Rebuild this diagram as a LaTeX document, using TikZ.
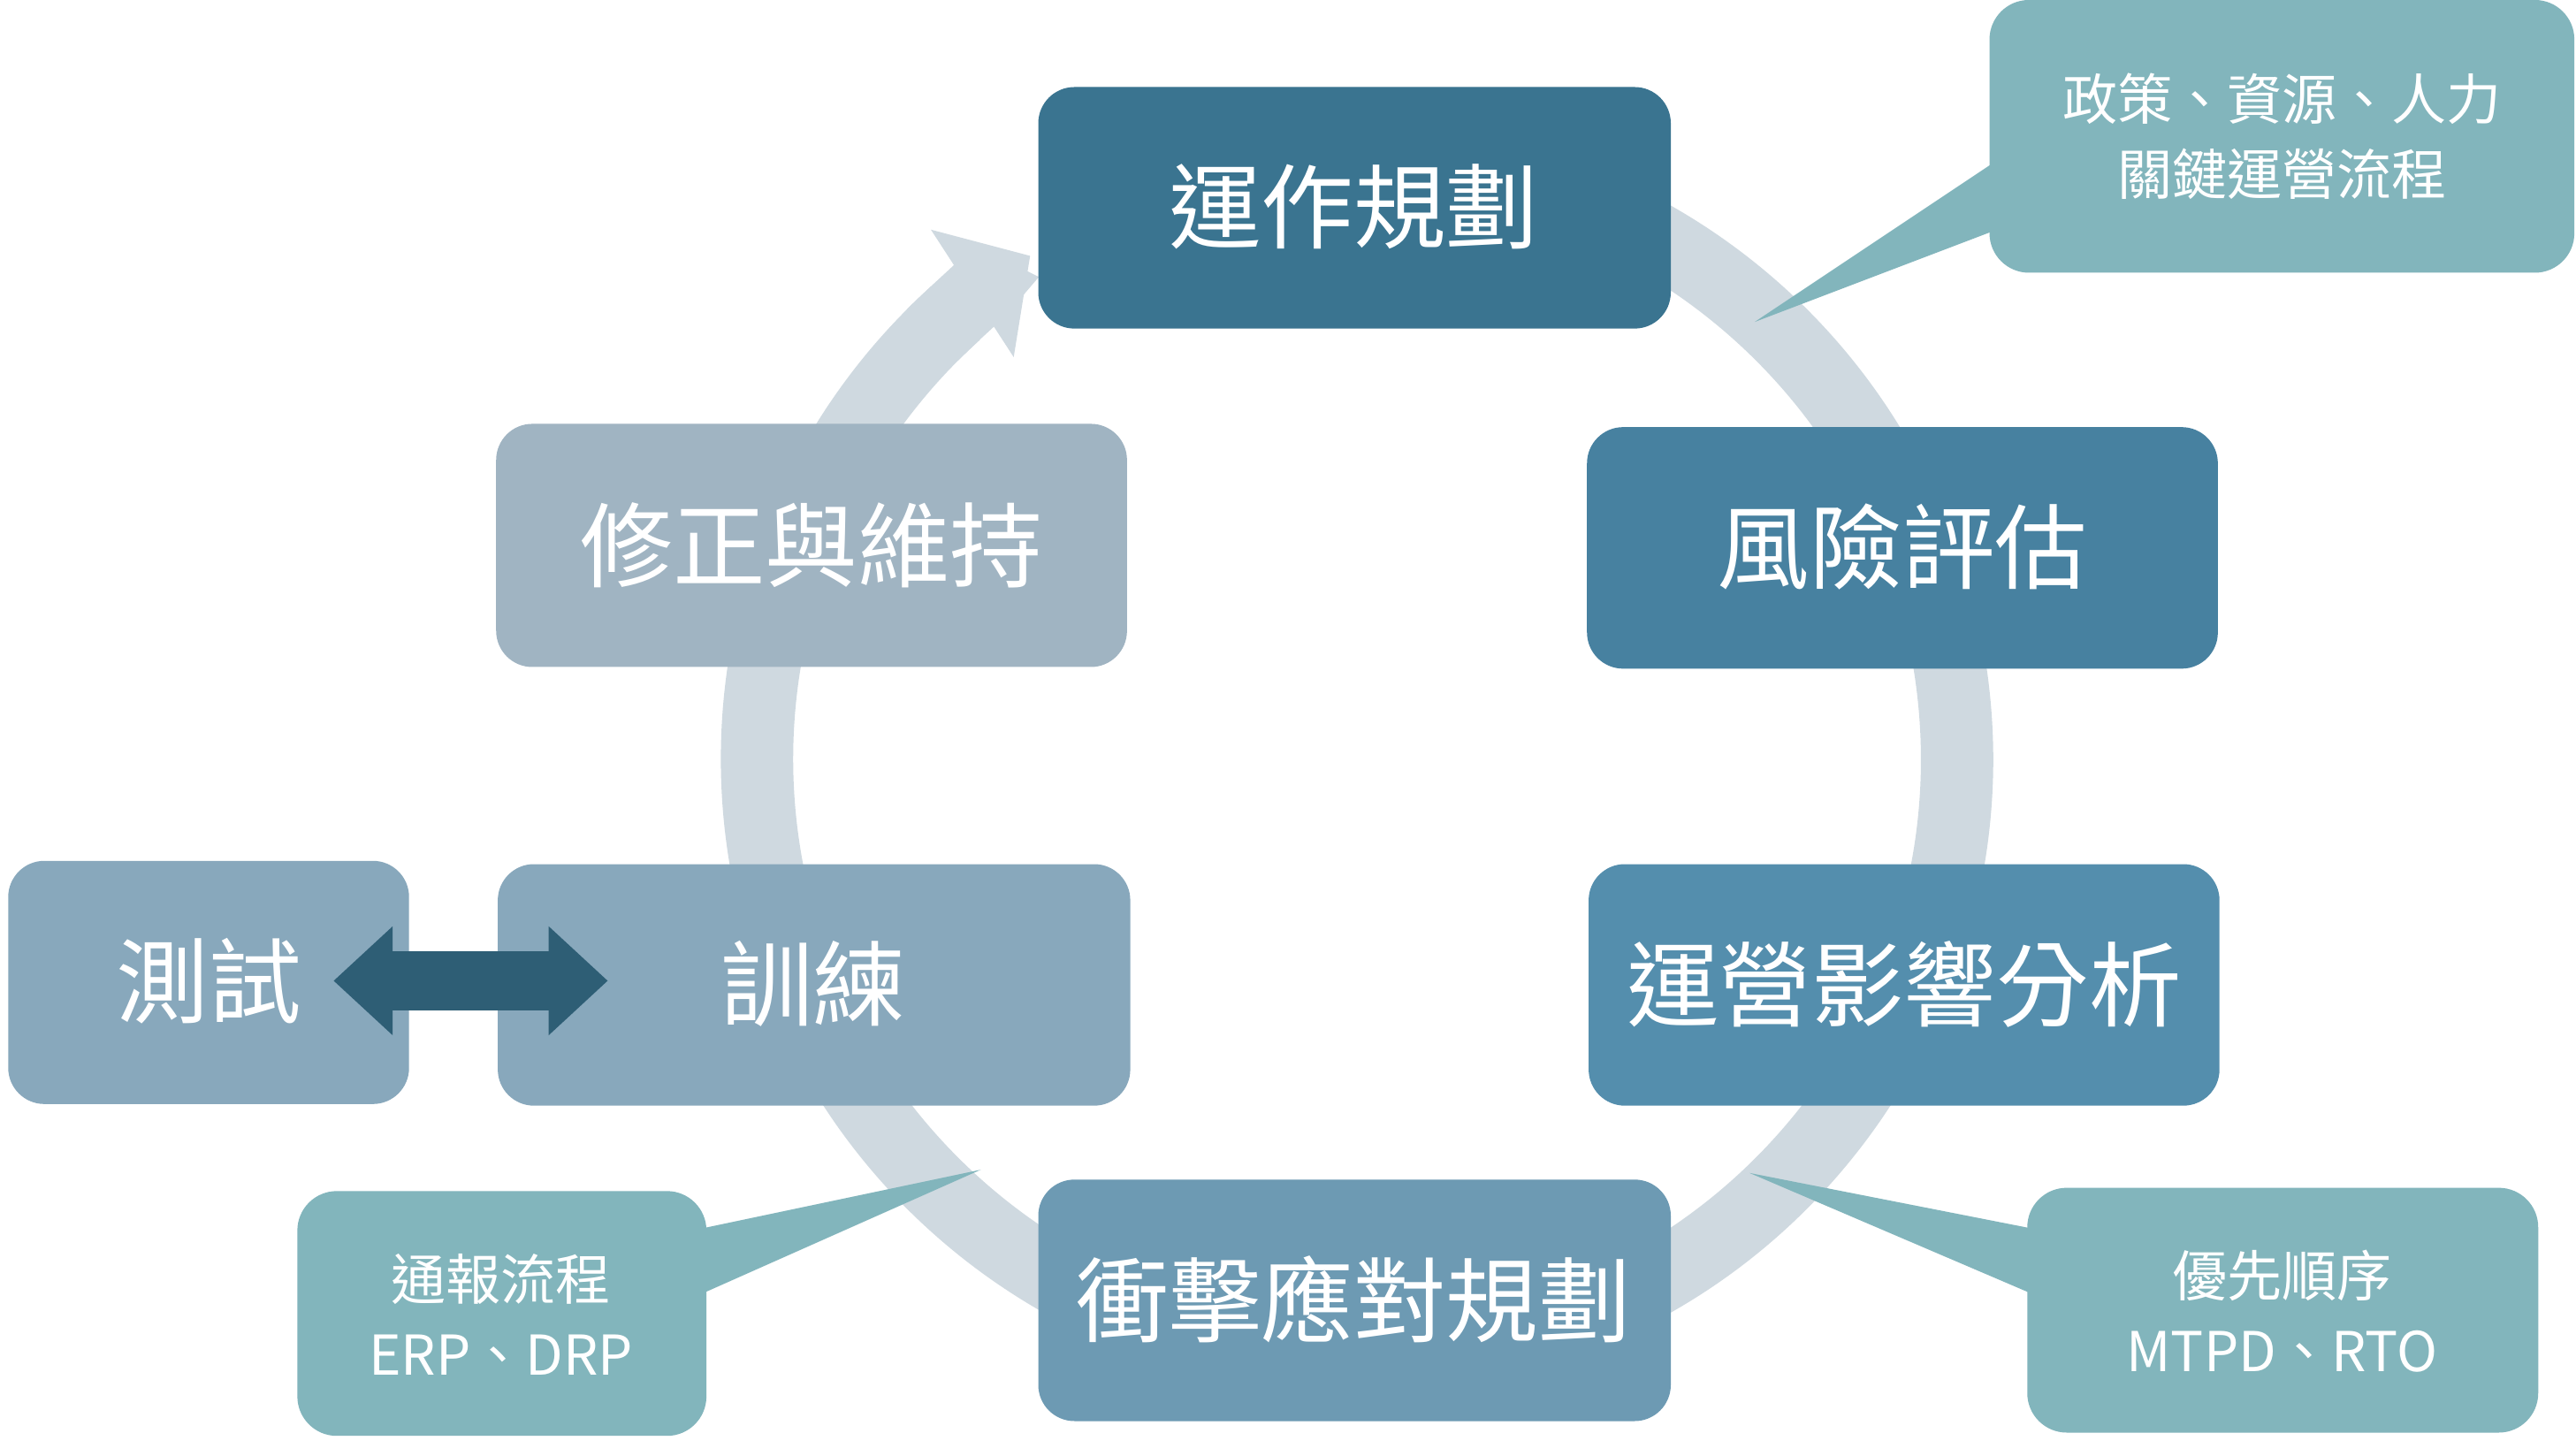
\documentclass[tikz,border=0pt]{standalone}
\usepackage{fontspec}
\setmainfont{Noto Sans CJK TC}
\usetikzlibrary{arrows.meta}
\definecolor{c1}{HTML}{3A7490}
\definecolor{c2}{HTML}{4781A0}
\definecolor{c3}{HTML}{548EAD}
\definecolor{c4}{HTML}{6D9AB3}
\definecolor{c5}{HTML}{88A8BC}
\definecolor{c6}{HTML}{A0B4C2}
\definecolor{cc}{HTML}{82B5BC}
\definecolor{ring}{HTML}{CFD9E0}
\definecolor{dark}{HTML}{2E5E75}
\begin{document}
\begin{tikzpicture}[x=0.01cm,y=-0.01cm,
  box/.style={rounded corners=0.22cm, text=white, font=\fontsize{16}{18}\selectfont, inner sep=0pt},
  call/.style={rounded corners=0.24cm, fill=cc, text=white, align=center, font=\fontsize{9.5}{13}\selectfont, inner sep=0pt}]
\useasboundingbox (0,0) rectangle (1568,886);
\fill[white] (0,0) rectangle (1568,886);
% ring
\coordinate (C) at (826,462);
\draw[ring, line width=0.44cm] ([shift={(100:3.65cm)}]C) arc[start angle=100, end angle=-228, radius=3.65cm];
\draw[ring, line width=0.44cm, -{Triangle[width=0.9cm,length=0.42cm]}] ([shift={(135:3.65cm)}]C) arc[start angle=135, end angle=123, radius=3.65cm];
% boxes
\path[box, fill=c1] (632,53) rectangle (1017,200);
\node[text=white, font=\fontsize{16}{18}\selectfont] (a) at (824,126) {運作規劃};
\path[box, fill=c2] (966,260) rectangle (1350,407);
\node[text=white, font=\fontsize{16}{18}\selectfont] (b) at (1158,333) {風險評估};
\path[box, fill=c3] (967,526) rectangle (1351,673);
\node[text=white, font=\fontsize{16}{18}\selectfont] (c) at (1159,599) {運營影響分析};
\path[box, fill=c4] (632,718) rectangle (1017,865);
\node[text=white, font=\fontsize{16}{18}\selectfont] (d) at (824,791) {衝擊應對規劃};
\path[box, fill=c5] (303,526) rectangle (688,673);
\node[text=white, font=\fontsize{16}{18}\selectfont] (e) at (495,599) {訓練};
\path[box, fill=c6] (302,258) rectangle (686,406);
\node[text=white, font=\fontsize{16}{18}\selectfont] (f) at (494,332) {修正與維持};
\path[box, fill=c5] (5,524) rectangle (249,672);
\node[text=white, font=\fontsize{16}{18}\selectfont] (g) at (127,597) {測試};
% double arrow
\coordinate (L) at (203,597);
\coordinate (R) at (370,597);
\draw[dark, line width=0.36cm, {Triangle[width=0.64cm,length=0.36cm]}-{Triangle[width=0.64cm,length=0.36cm]}] (L) -- (R);
% callouts
\fill[cc] (1215,98) -- (1068,196) -- (1215,140) -- cycle;
\path[call] (1211,0) rectangle (1567,166);
\node[text=white, align=center, font=\fontsize{9.5}{13}\selectfont] (p) at (1389,83) {政策、資源、人力\\關鍵運營流程};
\fill[cc] (426,748) -- (597,712) -- (426,788) -- cycle;
\path[call] (181,725) rectangle (430,874);
\node[text=white, align=center, font=\fontsize{9.5}{13}\selectfont] (q) at (305,800) {通報流程\\ERP、DRP};
\fill[cc] (1238,748) -- (1065,714) -- (1238,788) -- cycle;
\path[call] (1234,723) rectangle (1545,872);
\node[text=white, align=center, font=\fontsize{9.5}{13}\selectfont] (r) at (1389,798) {優先順序\\MTPD、RTO};
\end{tikzpicture}
\end{document}
